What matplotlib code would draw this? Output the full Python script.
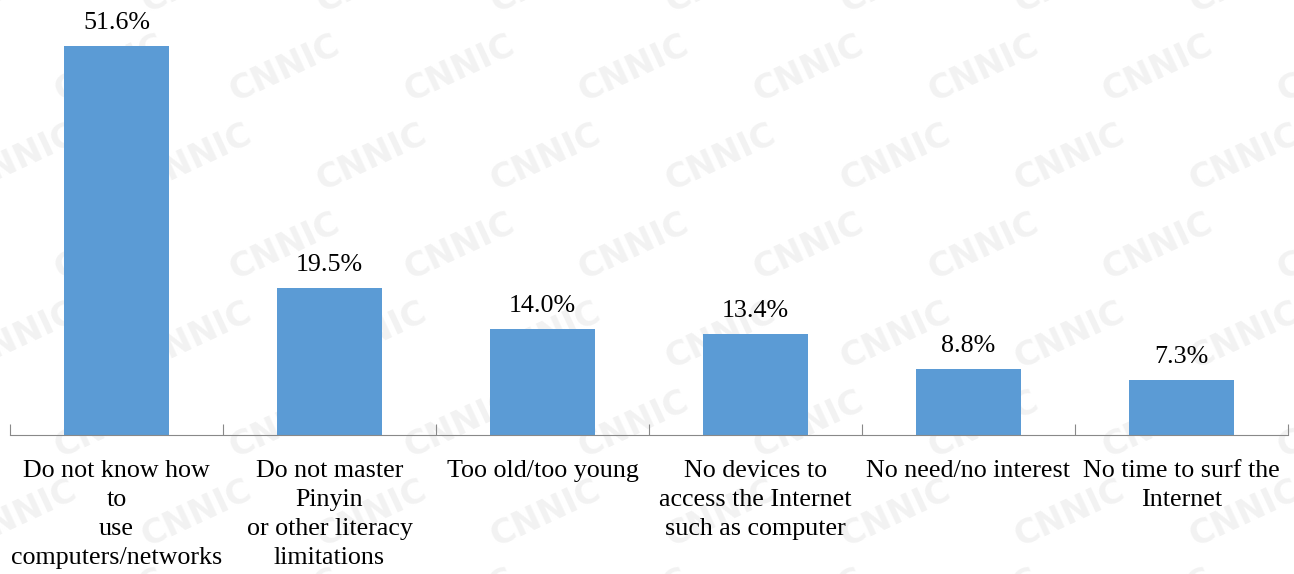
import numpy as np
import matplotlib.pyplot as plt

reasons = [
    "Do not know how\nto\nuse\ncomputers/networks",
    "Do not master\nPinyin\nor other literacy\nlimitations",
    "Too old/too young",
    "No devices to\naccess the Internet\nsuch as computer",
    "No need/no interest",
    "No time to surf the\nInternet",
]
shares = [51.6, 19.5, 14.0, 13.4, 8.8, 7.3]

plt.rcParams['font.family'] = ['Liberation Serif', 'DejaVu Serif']

fig = plt.figure(figsize=(12.94, 5.74), dpi=100)
ax = fig.add_axes([10 / 1294, 1 - 435 / 574, 1278 / 1294, 435 / 574])
ax.patch.set_alpha(0)

# faint CNNIC watermark tiled behind the bars
for row, yy in enumerate(np.arange(-0.05, 1.1, 0.155)):
    for xx in np.arange(-0.05, 1.1, 0.135):
        ax.text(xx + (row % 2) * 0.067, yy, "CNNIC", fontsize=24, fontweight='bold',
                family='DejaVu Sans', color='#f2f2f2', rotation=25,
                ha='center', va='center', zorder=0, transform=fig.transFigure,
                clip_on=False)

x = np.arange(len(shares))
ax.bar(x, shares, width=0.49, color='#5B9BD5', zorder=2)
for xi, v in zip(x, shares):
    ax.text(xi, v + 1.6, f"{v:.1f}%", ha='center', va='bottom', fontsize=18.7, zorder=3)

ax.set_xlim(-0.5, len(shares) - 0.5)
ax.set_ylim(0, 57.7)

for side in ['top', 'right', 'left']:
    ax.spines[side].set_visible(False)
ax.spines['bottom'].set_color('#898989')
ax.spines['bottom'].set_zorder(3)
ax.set_yticks([])

# category boundary ticks pointing up from the axis line
ax.set_xticks(np.arange(-0.5, len(shares), 1.0))
ax.set_xticklabels([])
ax.tick_params(axis='x', direction='in', length=8, color='#898989')
ax.set_xticks(x, minor=True)
ax.set_xticklabels(reasons, minor=True, fontsize=18.7, linespacing=1.42)
ax.tick_params(axis='x', which='minor', length=0, pad=18)

fig.savefig('out.png', dpi=100)
